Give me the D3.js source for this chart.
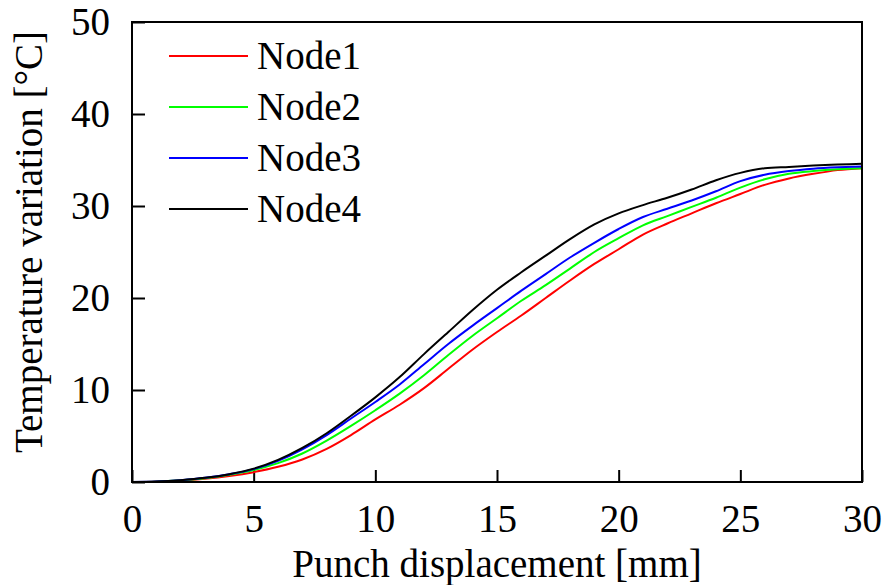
<!DOCTYPE html>
<html>
<head>
<meta charset="utf-8">
<script src="https://cdn.jsdelivr.net/npm/d3@7"></script>
<style>
    body { margin: 0; background: #fff; }
    text { font-family: "Liberation Serif", "Times New Roman", Times, serif; fill: #000; }
</style>
</head>
<body>
<div id="graph"></div>
<script>
// punch displacement [mm]
var disp = [0, 1, 2, 3, 4, 5, 6, 7, 8, 9, 10, 11, 12, 13, 14, 15, 16, 17, 18, 19, 20, 21, 22, 23, 24, 25, 26, 27, 28, 29, 30];
// temperature variation per node [C]
var node1 = [0, 0.03, 0.15, 0.35, 0.65, 1.07, 1.65, 2.45, 3.6, 5.1, 6.8, 8.4, 10.2, 12.3, 14.4, 16.3, 18.1, 20.0, 21.9, 23.7, 25.3, 26.9, 28.1, 29.2, 30.3, 31.3, 32.3, 33.0, 33.5, 33.9, 34.1];
var node2 = [0, 0.04, 0.18, 0.4, 0.78, 1.3, 2.05, 3.1, 4.5, 6.1, 7.8, 9.6, 11.6, 13.8, 15.9, 17.8, 19.7, 21.4, 23.2, 25.0, 26.5, 27.9, 28.9, 29.9, 30.9, 32.0, 32.9, 33.5, 33.8, 34.0, 34.1];
var node3 = [0, 0.05, 0.2, 0.45, 0.85, 1.4, 2.3, 3.55, 5.1, 6.9, 8.7, 10.6, 12.8, 15.0, 17.0, 18.9, 20.8, 22.6, 24.4, 26.0, 27.5, 28.8, 29.7, 30.6, 31.6, 32.7, 33.4, 33.8, 34.05, 34.2, 34.3];
var node4 = [0, 0.05, 0.2, 0.45, 0.85, 1.45, 2.4, 3.7, 5.3, 7.2, 9.2, 11.4, 13.9, 16.3, 18.7, 20.9, 22.8, 24.6, 26.4, 28.0, 29.2, 30.1, 30.9, 31.8, 32.8, 33.6, 34.1, 34.25, 34.4, 34.5, 34.6];
var seriesNames = ["Node1", "Node2", "Node3", "Node4"];
var seriesColors = ["#ff0000", "#00ff00", "#0000ff", "#000000"];
var xTicks = [0, 5, 10, 15, 20, 25, 30];
var yTicks = [0, 10, 20, 30, 40, 50];

var series = [node1, node2, node3, node4];
var serif = "'Liberation Serif', 'Times New Roman', Times, serif";

var margin = { top: 22, right: 23, bottom: 103, left: 132 },
    width = 885 - margin.left - margin.right,
    height = 585 - margin.top - margin.bottom;

var svg = d3.select("#graph")
    .append("svg")
    .attr("width", 885)
    .attr("height", 585)
    .append("g")
    .attr("transform", "translate(" + margin.left + "," + margin.top + ")");

var x = d3.scaleLinear().domain([0, 30]).range([0, width]);
var y = d3.scaleLinear().domain([0, 50]).range([height, 0]);

// bottom axis, ticks point inward
var xAxis = svg.append("g")
    .attr("transform", "translate(0," + height + ")")
    .call(d3.axisBottom(x).tickValues(xTicks).tickSizeInner(-12).tickSizeOuter(0).tickPadding(22));
// left axis
var yAxis = svg.append("g")
    .call(d3.axisLeft(y).tickValues(yTicks).tickSizeInner(-13).tickSizeOuter(0).tickPadding(22));

[xAxis, yAxis].forEach(function (a) {
    a.attr("font-family", serif);
    a.select(".domain").remove();
    a.selectAll("line").attr("stroke", "#000").attr("stroke-width", 2);
    a.selectAll("text")
        .style("font-family", serif)
        .style("font-size", "39px")
        .attr("fill", "#000");
});
xAxis.selectAll("text").attr("dy", "0.71em");

// the curves
var line = d3.line()
    .x(function (d, i) { return x(disp[i]) })
    .y(function (d) { return y(d) })
    .curve(d3.curveMonotoneX);

svg.append("g")
    .selectAll("path")
    .data(series)
    .enter()
    .append("path")
    .attr("fill", "none")
    .attr("stroke", function (d, i) { return seriesColors[i] })
    .attr("stroke-width", 2)
    .attr("d", line);

// frame
svg.append("rect")
    .attr("x", 0)
    .attr("y", 0)
    .attr("width", width)
    .attr("height", height)
    .attr("fill", "none")
    .attr("stroke", "#000")
    .attr("stroke-width", 2);

// legend
var legend = svg.append("g")
    .attr("transform", "translate(37,34)");
var item = legend.selectAll("g")
    .data(seriesNames)
    .enter()
    .append("g")
    .attr("transform", function (d, i) { return "translate(0," + (i * 51) + ")" });
item.append("line")
    .attr("x1", 0)
    .attr("x2", 79)
    .attr("stroke", function (d, i) { return seriesColors[i] })
    .attr("stroke-width", 2);
item.append("text")
    .attr("x", 88)
    .attr("y", 13)
    .style("font-family", serif)
    .style("font-size", "39px")
    .text(function (d) { return d });

// axis titles
svg.append("text")
    .attr("x", width / 2)
    .attr("y", height + 95)
    .attr("text-anchor", "middle")
    .style("font-family", serif)
    .style("font-size", "39px")
    .text("Punch displacement [mm]");
svg.append("text")
    .attr("transform", "translate(-90," + (height / 2 - 10) + ") rotate(-90)")
    .attr("text-anchor", "middle")
    .style("font-family", serif)
    .style("font-size", "39px")
    .text("Temperature variation [°C]");
</script>
</body>
</html>
